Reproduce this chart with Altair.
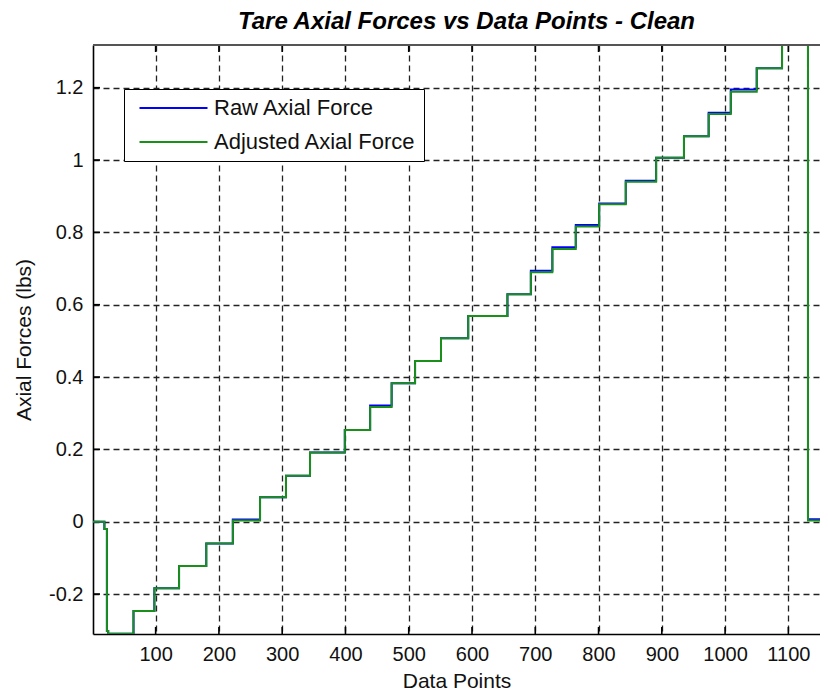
import altair as alt
import pandas as pd

# ---- data ----
step_x = [1, 19, 23, 25, 65, 98, 137, 180, 222, 265, 306, 344, 399, 439, 473, 510,
          551, 594, 656, 693, 727, 764, 801, 843, 891, 935, 974, 1009, 1050, 1090,
          1131, 1163]
raw_force = [0.0, -0.02, -0.302, -0.31, -0.247, -0.184, -0.1225, -0.060, 0.006,
             0.0675, 0.127, 0.191, 0.2535, 0.321, 0.3826, 0.444, 0.507, 0.5687,
             0.6287, 0.694, 0.7586, 0.820, 0.880, 0.943, 1.006, 1.066, 1.131, 1.195,
             1.2535, 1.318, 0.007, 0.007]
adjusted_force = [0.0, -0.02, -0.302, -0.31, -0.247, -0.184, -0.1225, -0.060, 0.003,
                  0.0675, 0.127, 0.191, 0.2535, 0.317, 0.3826, 0.444, 0.507, 0.5687,
                  0.6287, 0.690, 0.754, 0.816, 0.8775, 0.940, 1.006, 1.066, 1.127,
                  1.189, 1.2535, 1.318, 0.003, 0.003]
x_ticks = [100, 200, 300, 400, 500, 600, 700, 800, 900, 1000, 1100]
y_ticks = [-0.2, 0, 0.2, 0.4, 0.6, 0.8, 1, 1.2]
series_names = ["Raw Axial Force", "Adjusted Axial Force"]
series_colors = ["#0000ff", "#1a8f1a"]
x_domain = [1, 1150]
y_domain = [-0.3105, 1.318]

rows = []
for name, vals in zip(series_names, [raw_force, adjusted_force]):
    for xv, yv in zip(step_x, vals):
        rows.append({"series": name, "x": xv, "y": yv})
df = pd.DataFrame(rows)
xt_df = pd.DataFrame({"t": x_ticks})
yt_df = pd.DataFrame({"t": y_ticks})

W, H = 727, 589
FONT = "Liberation Sans"
xscale = alt.Scale(domain=x_domain, nice=False, zero=False)
yscale = alt.Scale(domain=y_domain, nice=False, zero=False)

color = alt.Color(
    "series:N", title=None,
    scale=alt.Scale(domain=series_names, range=series_colors),
    legend=alt.Legend(
        orient="none", legendX=31, legendY=44,
        strokeColor="black", fillColor="white", padding=8, cornerRadius=0,
        labelFont=FONT, labelFontSize=22, labelColor="#111", labelLimit=400,
        symbolType="M-1,0H7", symbolSize=289, symbolStrokeWidth=2,
        symbolOffset=5, labelOffset=55, rowPadding=12,
    ),
)

x_enc = alt.X("x:Q", scale=xscale, axis=alt.Axis(
    values=x_ticks, title="Data Points", grid=True, gridDash=[6, 4],
    gridColor="#222", gridWidth=1.3, domainColor="black", domainWidth=1.6,
    ticks=False, labelExpr="'' + datum.value", labelFont=FONT, labelFontSize=20,
    labelColor="#111", labelPadding=10, titleFont=FONT, titleFontSize=21,
    titleFontWeight="normal", titleColor="#111", titlePadding=6))
y_enc = alt.Y("y:Q", scale=yscale, axis=alt.Axis(
    values=y_ticks, title="Axial Forces (lbs)", grid=True, gridDash=[6, 4],
    gridColor="#222", gridWidth=1.3, domainColor="black", domainWidth=1.6,
    ticks=False, labelExpr="'' + datum.value", labelFont=FONT, labelFontSize=20,
    labelColor="#111", labelPadding=10, titleFont=FONT, titleFontSize=21,
    titleFontWeight="normal", titleColor="#111", titlePadding=14))

base = alt.Chart(df)
raw_line = base.transform_filter(alt.datum.series == series_names[0]).mark_line(
    interpolate="step-after", strokeWidth=2, clip=True).encode(x=x_enc, y=y_enc, color=color)
adj_line = base.transform_filter(alt.datum.series == series_names[1]).mark_line(
    interpolate="step-after", strokeWidth=2, clip=True).encode(x=x_enc, y=y_enc, color=color)

tick_style = dict(color="black", strokeWidth=1.6)
xt_bottom = alt.Chart(xt_df).mark_rule(**tick_style).encode(
    x=alt.X("t:Q", scale=xscale), y=alt.value(H), y2=alt.value(H - 7))
xt_top = alt.Chart(xt_df).mark_rule(**tick_style).encode(
    x=alt.X("t:Q", scale=xscale), y=alt.value(0), y2=alt.value(7))
yt_left = alt.Chart(yt_df).mark_rule(**tick_style).encode(
    y=alt.Y("t:Q", scale=yscale), x=alt.value(0), x2=alt.value(7))
top_border = alt.Chart(xt_df).mark_rule(color="#555", strokeWidth=2).encode(
    x=alt.value(0), x2=alt.value(W), y=alt.value(0))

chart = alt.layer(xt_bottom, xt_top, yt_left, raw_line, adj_line, top_border).properties(
    width=W, height=H,
    padding={"left": 85, "top": 37, "right": 0, "bottom": 62},
    autosize=alt.AutoSizeParams(type="none"),
    title=alt.TitleParams(
        "Tare Axial Forces vs Data Points - Clean", font=FONT, fontSize=24,
        fontWeight="bold", fontStyle="italic", color="black", anchor="middle",
        dx=10, offset=10),
).configure_view(strokeWidth=0)

chart.save("out.html", embed_options={"renderer": "svg", "actions": False})
